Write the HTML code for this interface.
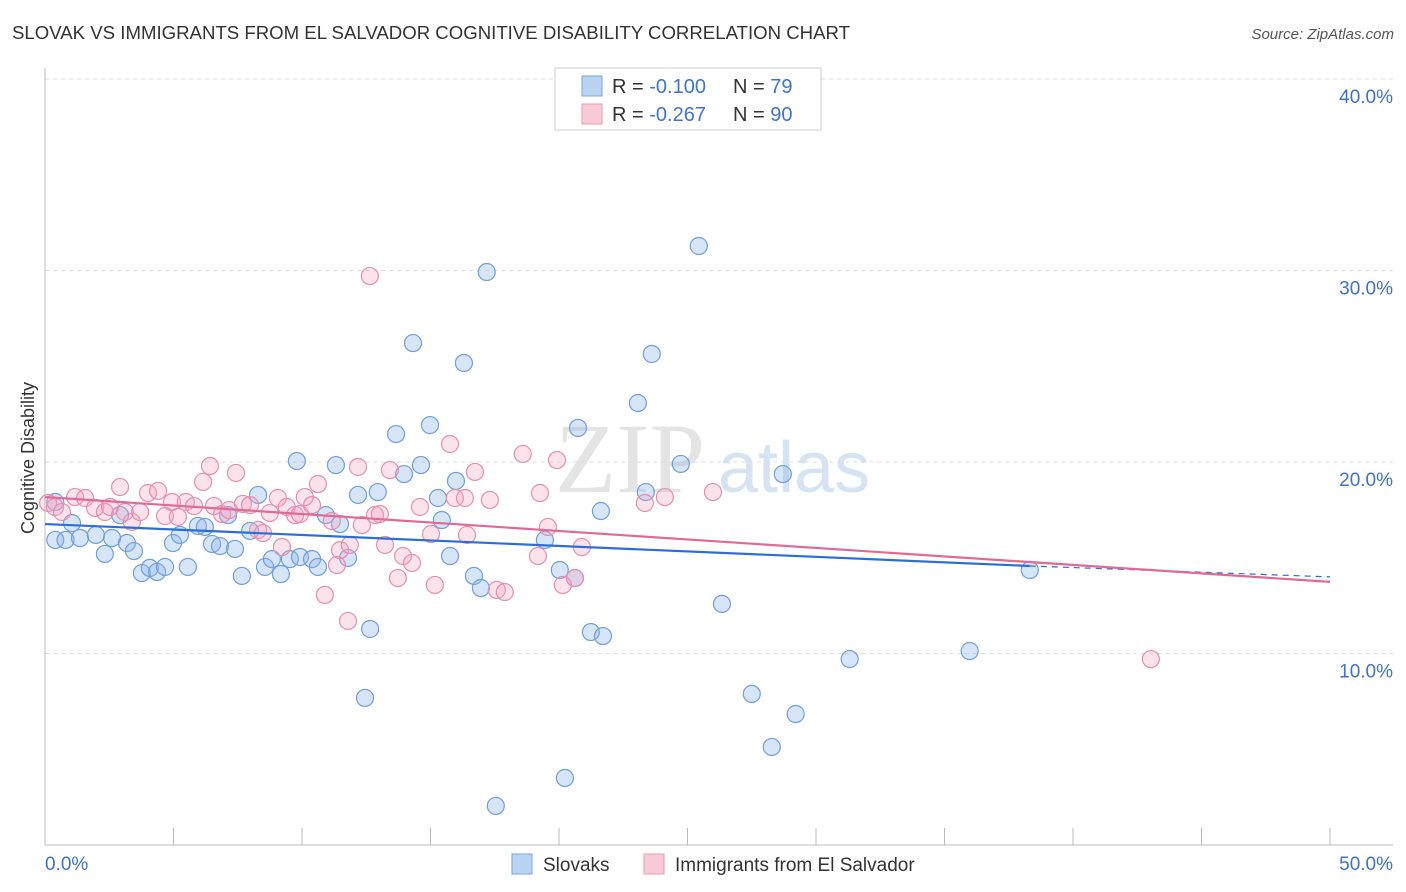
<!DOCTYPE html>
<html><head><meta charset="utf-8">
<style>
body{margin:0;background:#fff;font-family:"Liberation Sans",sans-serif;}
#wrap{position:relative;width:1406px;height:892px;overflow:hidden;}
</style></head>
<body><div id="wrap">
<svg id="svg" width="1406" height="892">
<text x="12" y="39" font-size="18" fill="#333" textLength="838" lengthAdjust="spacingAndGlyphs">SLOVAK VS IMMIGRANTS FROM EL SALVADOR COGNITIVE DISABILITY CORRELATION CHART</text>
<text x="1394" y="39" font-size="15" fill="#555" font-style="italic" text-anchor="end">Source: ZipAtlas.com</text>
<text x="34" y="458" font-size="18" fill="#333" text-anchor="middle" transform="rotate(-90 34 458)">Cognitive Disability</text>
<text x="555" y="492" font-size="100" fill="#e4e4e4" font-family="Liberation Serif,serif">ZIP</text>
<text x="718" y="492" font-size="72" fill="#d6e3f3">atlas</text>
<g id="grid"></g><g id="marks"></g>
<g>
<rect x="555" y="68" width="266" height="62" fill="#fff" stroke="#ccc"/>
<rect x="582" y="76" width="20" height="20" fill="#b9d3f3" stroke="#7aa6de"/>
<rect x="582" y="104" width="20" height="20" fill="#f9c9d8" stroke="#e99ab5"/>
<text x="612" y="93" font-size="20" fill="#333">R = <tspan fill="#3f74d2">-0.100</tspan></text>
<text x="733" y="93" font-size="20" fill="#333">N = <tspan fill="#3f74d2">79</tspan></text>
<text x="612" y="121" font-size="20" fill="#333">R = <tspan fill="#3f74d2">-0.267</tspan></text>
<text x="733" y="121" font-size="20" fill="#333">N = <tspan fill="#3f74d2">90</tspan></text>
</g>
<g>
<rect x="512" y="854" width="20" height="20" fill="#b9d3f3" stroke="#7aa6de"/>
<text x="543" y="871" font-size="19" fill="#333">Slovaks</text>
<rect x="644" y="854" width="20" height="20" fill="#f9c9d8" stroke="#e99ab5"/>
<text x="675" y="871" font-size="19" fill="#333">Immigrants from El Salvador</text>
</g>
</svg></div>
<script>
const xTicks=[0,5,10,15,20,25,30,35,40,45,50];
const yTicks=[10,20,30,40];
const blueX=[0.4,0.8,1.05,1.36,1.98,2.33,2.61,2.92,3.19,3.46,3.77,4.08,4.36,4.67,4.98,5.25,5.56,5.95,6.22,6.5,6.81,7.12,7.39,7.66,7.98,8.29,8.56,8.83,9.18,9.53,9.8,9.92,10.39,10.62,10.93,11.32,11.48,11.79,12.18,12.65,12.45,12.95,13.66,13.97,14.32,14.63,14.98,15.29,15.44,15.76,15.99,16.3,16.69,16.96,17.19,17.54,19.45,20.03,20.23,20.62,20.74,21.24,21.63,21.71,23.07,23.38,23.61,24.74,25.44,26.34,27.5,28.28,28.71,29.21,31.31,35.98,38.32,0.4];
const blueY=[15.93,15.93,16.81,16.03,16.19,15.2,16.03,17.23,15.77,15.35,14.2,14.47,14.26,14.52,15.77,16.19,14.52,16.66,16.61,15.72,15.61,17.23,15.46,14.05,16.4,18.28,14.52,14.93,14.15,14.93,20.05,15.04,14.93,14.52,17.23,19.84,16.76,14.99,18.28,11.28,7.68,18.43,21.46,19.37,26.21,19.84,21.93,18.12,16.97,15.09,19.01,25.17,14.05,13.42,29.92,2.04,15.93,14.36,3.5,13.94,21.78,11.12,17.44,10.91,23.08,18.43,25.64,19.9,31.28,12.59,7.89,5.12,19.37,6.84,9.71,10.13,14.36,17.91];
const pinkX=[0.12,0.39,0.66,1.17,1.56,1.95,2.33,2.53,2.92,3.11,3.38,3.7,4.01,4.4,4.67,4.94,5.17,5.48,5.8,6.15,6.42,6.57,6.89,7.16,7.43,7.7,7.98,8.29,8.48,8.75,9.06,9.22,9.41,9.73,9.92,10.11,10.39,10.62,10.89,11.16,11.36,11.48,11.79,11.86,12.18,12.33,12.64,12.84,13.03,13.23,13.42,13.73,13.93,14.28,14.59,15.02,15.17,15.76,15.95,16.34,16.42,16.73,17.31,17.58,17.89,18.59,19.18,19.26,19.57,19.92,20.15,20.62,20.89,23.34,24.12,25.99,43.03];
const pinkY=[17.86,17.65,17.39,18.17,18.12,17.6,17.39,17.65,18.69,17.39,16.87,17.39,18.38,18.49,17.18,17.91,17.13,17.91,17.7,18.96,19.79,17.7,17.28,17.49,19.43,17.81,17.75,16.45,16.29,17.34,18.12,15.56,17.65,17.23,17.28,18.17,17.75,18.85,13.06,16.92,14.62,15.4,11.7,15.67,19.74,16.71,29.71,17.23,17.28,15.67,19.58,13.94,15.09,14.73,17.65,16.24,13.58,20.94,18.12,18.12,16.19,19.48,18.02,13.32,13.21,20.42,15.09,18.38,16.61,20.1,13.58,13.94,15.56,17.86,18.17,18.43,9.71];
const blueTrend=[[0,16.76],[38.32,14.57]];
const blueDash=[[38.32,14.57],[50,14.0]];
const pinkTrend=[[0,18.17],[50,13.74]];
const X=v=>45+v*(1285/50);
const Y=v=>845-v*19.15;
const NS="http://www.w3.org/2000/svg";
const grid=document.getElementById('grid'),marks=document.getElementById('marks');
function mk(tag,at,parent){const e=document.createElementNS(NS,tag);for(const k in at)e.setAttribute(k,at[k]);parent.appendChild(e);return e;}
yTicks.forEach(t=>{
 const l=mk('line',{x1:45,x2:1393,y1:Y(t),y2:Y(t),stroke:'#ddd','stroke-dasharray':'4,4'},grid);
 
 
 const tx=mk('text',{x:1393,y:Y(t)+24,'font-size':19,fill:'#3d73c9','text-anchor':'end'},grid);
 tx.textContent=t.toFixed(1)+'%';
 
 
});
const ax=mk('line',{x1:45,x2:1393,y1:845,y2:845,stroke:'#bbb'},grid);


const ay=mk('line',{x1:45,x2:45,y1:68,y2:845,stroke:'#bbb'},grid);


xTicks.forEach(t=>{
 const l=mk('line',{x1:X(t),x2:X(t),y1:828,y2:845,stroke:'#bbb'},grid);
 
 
});
[[0,'start'],[50,'end']].forEach(([t,a])=>{
 const tx=mk('text',{x:t==0?45:1393,y:870,'font-size':19,fill:'#3d73c9','text-anchor':a},grid);
 tx.textContent=t.toFixed(1)+'%';
 
 
});
function pts(xs,ys,fill,stroke,name){
 const n=Math.min(xs.length,ys.length);
 for(let i=0;i<n;i++){
  const c=mk('circle',{cx:X(xs[i]),cy:Y(ys[i]),r:8.5,fill:fill,stroke:stroke,'stroke-width':1.2},marks);
  
  
 }
}
pts(blueX,blueY,'rgba(140,180,235,0.35)','#6f9fdc','slovak-point');
pts(pinkX,pinkY,'rgba(245,160,190,0.3)','#e58fae','el-salvador-point');
function line(p,col,name,dash){
 const l=mk('line',{x1:X(p[0][0]),y1:Y(p[0][1]),x2:X(p[1][0]),y2:Y(p[1][1]),stroke:col,'stroke-width':dash?1.2:2.2},marks);
 if(dash)l.setAttribute('stroke-dasharray','6,5');
 
 
}
line(blueTrend,'#2b6fd6','slovak-trend-line');
line(blueDash,'#2b6fd6','slovak-trend-extension',true);
line(pinkTrend,'#e06a96','el-salvador-trend-line');
</script>
</body></html>
